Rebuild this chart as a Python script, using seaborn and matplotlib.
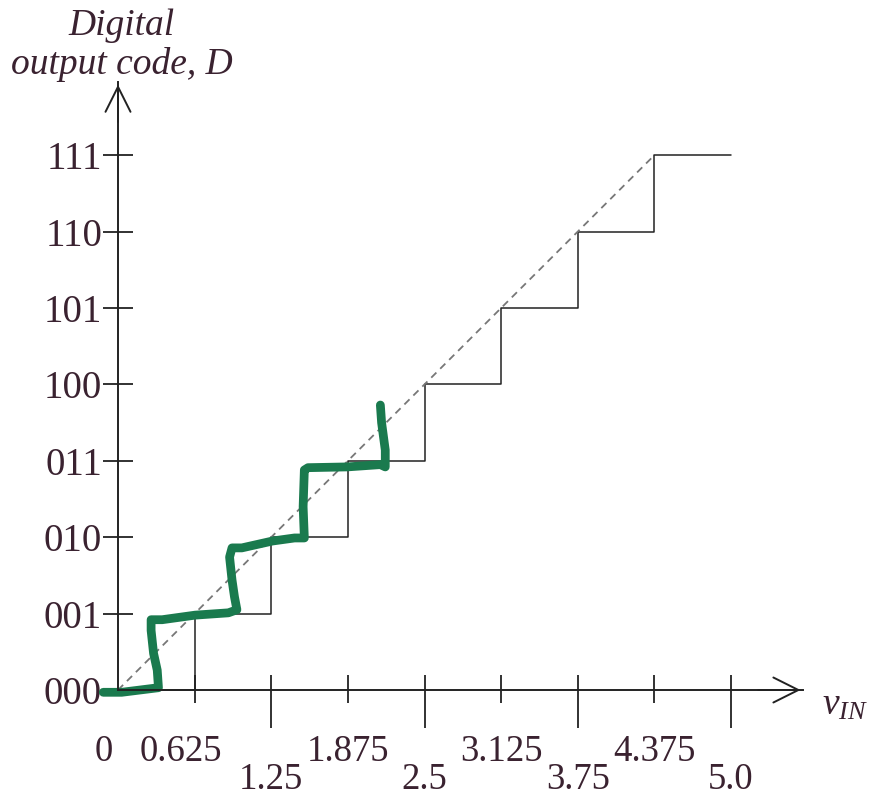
import matplotlib
matplotlib.use("Agg")
import matplotlib.pyplot as plt
import matplotlib.transforms as mtransforms
import seaborn as sns

# quantization thresholds (V) and output codes of the 3-bit ADC
v_edges = [0, 0.625, 1.25, 1.875, 2.5, 3.125, 3.75, 4.375, 5.0]
codes = [0, 1, 2, 3, 4, 5, 6, 7, 7]
code_labels = ['000', '001', '010', '011', '100', '101', '110', '111']

# ideal (dashed) line
ideal_v = [0, 4.375]
ideal_d = [0, 7]

# hand-drawn green trace
green_v = [-0.12, 0.03, 0.33, 0.32, 0.29, 0.27, 0.27, 0.36, 0.63, 0.90, 0.97,
           0.95, 0.93, 0.91, 0.93, 1.01, 1.26, 1.44, 1.52, 1.51, 1.52, 1.55,
           1.87, 2.14, 2.18, 2.18, 2.15, 2.14]
green_d = [-0.03, -0.03, 0.03, 0.26, 0.48, 0.78, 0.92, 0.92, 0.98, 1.01, 1.05,
           1.22, 1.44, 1.74, 1.86, 1.86, 1.95, 1.99, 1.99, 2.40, 2.88, 2.91,
           2.92, 2.95, 2.92, 3.14, 3.50, 3.73]

minor_pos = [0, 0.625, 1.875, 3.125, 4.375]
minor_lab = ['0', '0.625', '1.875', '3.125', '4.375']
major_pos = [1.25, 2.5, 3.75, 5.0]
major_lab = ['1.25', '2.5', '3.75', '5.0']

sns.set_theme(style='white')
plt.rcParams['font.family'] = ['Liberation Serif', 'DejaVu Serif']
plt.rcParams['mathtext.fontset'] = 'custom'
plt.rcParams['mathtext.it'] = 'Liberation Serif:italic'
plt.rcParams['mathtext.rm'] = 'Liberation Serif'

txt = '#3a2230'
ink = '#222222'

fig = plt.figure(figsize=(8.75, 8.02), dpi=100)
ax = fig.add_axes([0, 0, 1, 1])
ax.set_facecolor('white')

# pixel layout: x=0 -> 118px, 122.6 px per volt; y=0 -> 690px from top, 76.4 px per code
ax.set_xlim(-118 / 122.6, (875 - 118) / 122.6)
ax.set_ylim((690 - 802) / 76.4, 690 / 76.4)

sns.lineplot(x=v_edges, y=codes, drawstyle='steps-post', color=ink,
             linewidth=1.1, ax=ax, estimator=None)
sns.lineplot(x=ideal_v, y=ideal_d, color='#777777', linewidth=1.3,
             linestyle=(0, (4, 3)), ax=ax, estimator=None)
sns.lineplot(x=green_v, y=green_d, sort=False, color='#1a7a4e', linewidth=6.3,
             ax=ax, estimator=None, solid_capstyle='round', solid_joinstyle='round')

# axes through the origin
ax.spines['right'].set_visible(False)
ax.spines['left'].set_position(('data', 0))
ax.spines['bottom'].set_position(('data', 0))
ax.spines['top'].set_position(('data', 0))
ax.spines['top'].set_visible(False)
ax.spines['left'].set_bounds(0, 7.96)
ax.spines['bottom'].set_bounds(0, 5.59)
for side in ['left', 'bottom']:
    ax.spines[side].set_linewidth(1.4)
    ax.spines[side].set_color(ink)

ax.set_yticks(range(8))
ax.set_yticklabels(code_labels)
ax.tick_params(axis='y', left=True, right=False, direction='inout', length=21,
               width=1.3, color=ink, labelsize=28, pad=1, labelcolor=txt)

ax.set_xticks(major_pos)
ax.set_xticklabels(major_lab)
ax.set_xticks(minor_pos, minor=True)
ax.set_xticklabels(minor_lab, minor=True)
ax.tick_params(axis='x', which='both', top=True, bottom=True, direction='out',
               width=1.3, color=ink, labelcolor=txt, labelsize=26.5, labeltop=False)
ax.tick_params(axis='x', which='major', length=27, pad=25)
ax.tick_params(axis='x', which='minor', length=9.5, pad=22.5)
# upper half of the crossing ticks
for t in ax.xaxis.get_major_ticks() + ax.xaxis.get_minor_ticks():
    t.tick2line.set_markersize(11)
mt = ax.xaxis.get_minor_ticks()
mt[0].tick1line.set_visible(False)
mt[0].tick2line.set_visible(False)
shift = mtransforms.ScaledTranslation(-0.14, 0, fig.dpi_scale_trans)
for t in mt[:2]:
    t.label1.set_transform(t.label1.get_transform() + shift)

# arrowheads
arrow = dict(arrowstyle='->,head_length=0.9,head_width=0.45', color=ink,
             lw=1.4, mutation_scale=20)
ax.annotate('', xy=(0, 7.96), xytext=(0, 7.4), arrowprops=arrow)
ax.annotate('', xy=(5.59, 0), xytext=(5.2, 0), arrowprops=arrow)

fig.text(121 / 875, 1 - 26 / 802, 'Digital', ha='center', va='center',
         fontsize=27, style='italic', color=txt)
fig.text(122 / 875, 1 - 64 / 802, 'output code, D', ha='center', va='center',
         fontsize=27, style='italic', color=txt)
fig.text(845 / 875, 1 - 705 / 802, r'$v_{IN}$', ha='center', va='center',
         fontsize=27, color=txt)

plt.savefig('out.png', dpi=100)
